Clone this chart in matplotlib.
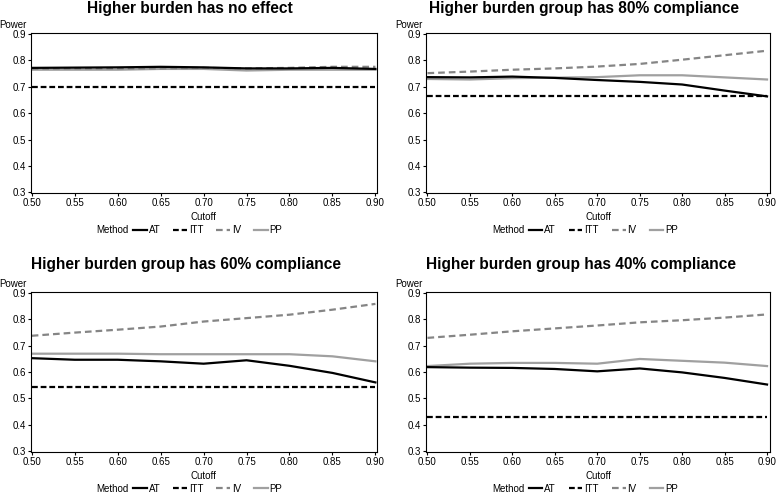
import numpy as np
import matplotlib
matplotlib.use('Agg')
import matplotlib.pyplot as plt
from matplotlib.lines import Line2D

plt.rcParams['font.family'] = ['Liberation Sans', 'DejaVu Sans']

# --------------------------------------------------------------------------------------------------
# data

cutoff = [0.50, 0.55, 0.60, 0.65, 0.70, 0.75, 0.80, 0.85, 0.90]

titles = ['Higher burden has no effect',
          'Higher burden group has 80% compliance',
          'Higher burden group has 60% compliance',
          'Higher burden group has 40% compliance']

at_noeff = [0.772, 0.773, 0.774, 0.776, 0.774, 0.770, 0.770, 0.772, 0.768]
itt_noeff = [0.700] * 9
iv_noeff = [0.768, 0.770, 0.770, 0.770, 0.772, 0.770, 0.772, 0.776, 0.776]
pp_noeff = [0.765, 0.765, 0.765, 0.768, 0.768, 0.762, 0.765, 0.765, 0.765]

at_80 = [0.737, 0.736, 0.739, 0.734, 0.726, 0.719, 0.709, 0.686, 0.664]
itt_80 = [0.665] * 9
iv_80 = [0.752, 0.758, 0.765, 0.770, 0.777, 0.787, 0.803, 0.820, 0.837]
pp_80 = [0.730, 0.728, 0.733, 0.735, 0.737, 0.744, 0.744, 0.736, 0.728]

at_60 = [0.653, 0.647, 0.647, 0.641, 0.632, 0.645, 0.624, 0.597, 0.561]
itt_60 = [0.545] * 9
iv_60 = [0.738, 0.750, 0.761, 0.773, 0.792, 0.805, 0.818, 0.837, 0.859]
pp_60 = [0.670, 0.670, 0.670, 0.668, 0.668, 0.668, 0.668, 0.660, 0.641]

at_40 = [0.619, 0.617, 0.616, 0.612, 0.603, 0.614, 0.599, 0.578, 0.553]
itt_40 = [0.428] * 9
iv_40 = [0.730, 0.742, 0.755, 0.766, 0.777, 0.789, 0.797, 0.807, 0.819]
pp_40 = [0.623, 0.632, 0.635, 0.635, 0.632, 0.650, 0.643, 0.636, 0.623]

methods = ['AT', 'ITT', 'IV', 'PP']

# --------------------------------------------------------------------------------------------------

W, H = 777, 494
fig = plt.figure(figsize=(W/100, H/100), dpi=100)

styles = {'AT':  dict(color='black', ls='-'),
          'ITT': dict(color='black', ls=(0, (2.6, 1.3))),
          'IV':  dict(color='#858585', ls=(0, (3.0, 1.8))),
          'PP':  dict(color='#a0a0a0', ls='-')}


def px(x, y):
    return x/W, 1 - y/H


def plot_panel(rect, xlim, title, title_xy, series):
    # rect in pixels: left, top, right, bottom
    l, t, r, b = rect
    ax = fig.add_axes([l/W, 1 - b/H, (r-l)/W, (b-t)/H])

    for m in ['PP', 'IV', 'AT', 'ITT']:
        ax.plot(cutoff, series[m], lw=1.6, **styles[m])

    ax.set_xlim(*xlim)
    ax.set_ylim(0.298, 0.903)
    ax.set_xticks(np.arange(0.5, 0.901, 0.05))
    ax.set_xticklabels([f'{v:.2f}' for v in np.arange(0.5, 0.901, 0.05)])
    ax.set_yticks([0.3, 0.4, 0.5, 0.6, 0.7, 0.8, 0.9])
    ax.set_yticklabels(['0.3', '0.4', '0.5', '0.6', '0.7', '0.8', '0.9'])
    ax.tick_params(which='both', direction='out', length=2, width=0.8,
                   labelsize=7, pad=1.5)
    for s in ['top', 'bottom', 'left', 'right']:
        ax.spines[s].set_linewidth(0.8)

    ax.set_xlabel('Cutoff', fontsize=7, labelpad=3)

    tx, ty = px(*title_xy)
    fig.text(tx, ty, title, fontsize=11.2, fontweight='bold', ha='center', va='center')

    fx, fy = px(l - 31, t - 8)
    fig.text(fx, fy, 'Power', fontsize=7, ha='left', va='center')

    # legend row under the x label
    lx, ly = px(l + 66, b + 37)
    fig.text(lx, ly, 'Method', fontsize=7, ha='left', va='center')
    handles = [Line2D([], [], lw=1.6, **styles[m]) for m in methods]
    cx, cy = px(l + 177, b + 37)
    fig.legend(handles, methods, loc='center', bbox_to_anchor=(cx, cy), ncol=4,
               frameon=False, fontsize=7, handlelength=1.4, handletextpad=0.2,
               columnspacing=1.35, borderpad=0)
    return ax


plot_panel((30.7, 33.3, 376.7, 193.0), (0.4988, 0.9015), titles[0], (190, 8),
           {'AT': at_noeff, 'ITT': itt_noeff, 'IV': iv_noeff, 'PP': pp_noeff})
plot_panel((426.3, 33.3, 770.0, 193.0), (0.4986, 0.9035), titles[1], (584, 8),
           {'AT': at_80, 'ITT': itt_80, 'IV': iv_80, 'PP': pp_80})
plot_panel((30.7, 292.3, 376.7, 451.7), (0.4988, 0.9015), titles[2], (186, 265),
           {'AT': at_60, 'ITT': itt_60, 'IV': iv_60, 'PP': pp_60})
plot_panel((426.3, 292.3, 770.0, 451.7), (0.4986, 0.9035), titles[3], (581, 265),
           {'AT': at_40, 'ITT': itt_40, 'IV': iv_40, 'PP': pp_40})

fig.savefig('out.png', dpi=100)
